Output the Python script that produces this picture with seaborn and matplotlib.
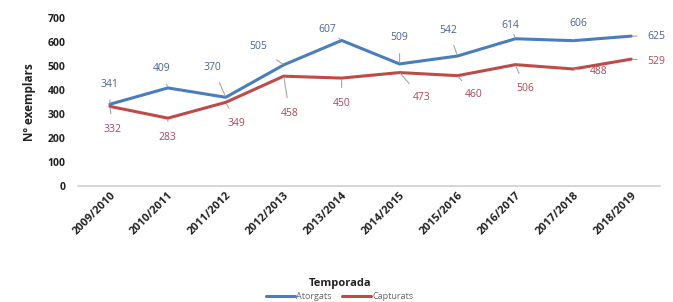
import matplotlib
matplotlib.use("Agg")
import matplotlib.pyplot as plt
import seaborn as sns
import pandas as pd
from matplotlib.lines import Line2D

seasons = ["2009/2010", "2010/2011", "2011/2012", "2012/2013", "2013/2014",
           "2014/2015", "2015/2016", "2016/2017", "2017/2018", "2018/2019"]
atorgats = [341, 409, 370, 505, 607, 509, 542, 614, 606, 625]
capturats = [332, 283, 349, 458, 450, 473, 460, 506, 488, 529]
series_names = ["Atorgats", "Capturats"]
yticks = [0, 100, 200, 300, 400, 500, 600, 700]

# label offsets in pixels (dx, dy downward positive)
off_a = [(0, -20), (-6, -19), (-13, -30), (-25, -18), (-14, -11),
         (0, -26), (-9, -26), (-5, -13), (5, -17), (25, 0)]
off_c = [(3, 23), (0, 19), (11, 21), (6, 37), (0, 25),
         (22, 25), (16, 19), (10, 24), (25, 3), (25, 2)]

sns.set_theme(style="white")
plt.rcParams['font.family'] = ['Open Sans', 'DejaVu Sans']

df = pd.DataFrame({
    "Temporada": seasons * 2,
    "value": atorgats + capturats,
    "serie": [series_names[0]] * len(seasons) + [series_names[1]] * len(seasons),
})
df["x"] = list(range(len(seasons))) * 2

blue = "#4a7ebb"
red = "#be4b48"
fig = plt.figure(figsize=(6.73, 3.02), dpi=100)
ax = fig.add_axes([0.116, 0.384, 0.865, 0.556])
sns.lineplot(data=df, x="x", y="value", hue="serie", palette=[blue, red],
             linewidth=2.2, ax=ax, legend=False, sort=False)

ax.set_xlim(-0.55, len(seasons) - 0.5)
ax.set_ylim(0, 700)
ax.set_yticks(yticks)
ax.set_yticklabels([str(v) for v in yticks], fontsize=7.5, fontweight="bold", color="#222222")
ax.set_xticks(range(len(seasons)))
ax.set_xticklabels(seasons, rotation=45, ha="right", rotation_mode="anchor",
                   fontsize=8, fontweight="bold", color="#222222")
ax.tick_params(axis="both", length=0, pad=3)
ax.tick_params(axis="y", pad=9)
for s in ["top", "right", "left"]:
    ax.spines[s].set_visible(False)
ax.spines["bottom"].set_color("#d0d0d0")
ax.spines["bottom"].set_linewidth(1.2)
ax.set_xlabel("")
ax.set_ylabel("Nº exemplars", fontsize=8.5, fontweight="bold", color="#222222", labelpad=8)

def annotate(vals, offs, color):
    for i, (v, (dx, dy)) in enumerate(zip(vals, offs)):
        ax.annotate(str(v), xy=(i, v), xytext=(dx * 0.72, -dy * 0.72),
                    textcoords="offset points", ha="center", va="center",
                    fontsize=7.5, color=color,
                    arrowprops=dict(arrowstyle="-", color="#a6a6a6", lw=0.8,
                                    shrinkA=5, shrinkB=1))

annotate(atorgats, off_a, "#4a6290")
annotate(capturats, off_c, "#a8485a")

fig.text(0.505, 0.06, "Temporada", ha="center", va="center", fontsize=8,
         fontweight="bold", color="#222222")
handles = [Line2D([], [], color=blue, lw=2.2), Line2D([], [], color=red, lw=2.2)]
leg = fig.legend(handles, series_names, loc="center", bbox_to_anchor=(0.505, 0.018),
                 ncol=2, frameon=False, fontsize=6.5, handlelength=3.2,
                 handletextpad=0.1, columnspacing=1.2, borderpad=0)
for t in leg.get_texts():
    t.set_color("#666666")

fig.savefig("out.png", dpi=100)
